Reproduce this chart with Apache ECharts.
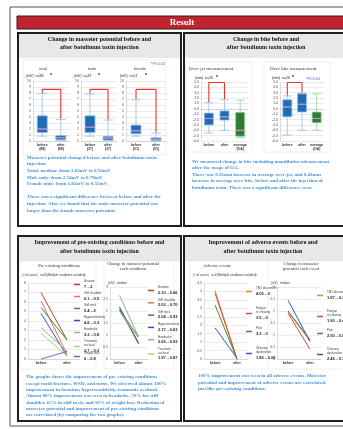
<!DOCTYPE html>
<html>
<head>
<meta charset="utf-8">
<script src="https://cdn.jsdelivr.net/npm/echarts@6/dist/echarts.min.js"></script>
<style>
html, body {margin: 0; padding: 0; background: #fff;}
#main {width: 343px; height: 429px;}
</style>
</head>
<body>
<div id="main"></div>
<script>
// masseter potential (mV): [min, Q1, median, Q3, max]
var boxCats = ['before', 'after'];
var totalBox = [[0.8, 1.4, 2.0, 4.2, 7.9], [0.05, 0.2, 0.55, 0.9, 3.6]];
var maleBox = [[0.8, 1.4, 2.3, 4.2, 7.8], [0.05, 0.15, 0.5, 0.8, 3.5]];
var femaleBox = [[0.8, 1.2, 1.7, 2.65, 6.9], [0, 0.05, 0.3, 0.55, 1.3]];
var groupN = [88, 37, 51];
var groupTitles = ['total', 'male', 'female'];
var sigTop = [8.6, 8.6, 8.6];

// bite (mm)
var biteCats = ['before', 'after', 'average\n(OA)'];
var ojBox = [[-4.5, -3.0, -1.8, -0.8, 1.15], [-4.0, -2.1, -1.5, -0.4, 1.7], [-5.4, -5.1, -4.0, -0.65, 1.6]];
var obBox = [[-4.9, -1.5, 0.35, 1.7, 2.4], [-4.0, -0.6, 0.85, 2.8, 2.95], [-4.0, -2.6, -1.8, -0.6, 2.8]];
var biteSigTop = [4.9, 4.9];

// pre-existing conditions
var lineCats = ['before', 'after'];
var condNames = ['Bruxism', 'Stiff shoulder', 'Stiff neck', 'Hypersensitivity', 'Headache', 'Traumatic occlusal', 'Weight loss'];
var condBefore = [7, 6.1, 5.4, 4.8, 3.3, 2.7, 0];
var condAfter = [2, 0.5, 2, 0.3, 0.8, 0.3, 0.8];
var condColors = ['#a0522d', '#f26b5b', '#3c8c3c', '#3455c4', '#a6a6a6', '#a8d46a', '#8a56c8'];
var condPotNames = ['Bruxism', 'Stiff shoulder', 'Stiff neck', 'Hypersensitivity', 'Headache', 'Traumatic occlusal'];
var condPotBefore = [2.10, 2.03, 2.04, 2.17, 2.65, 1.97];
var condPotAfter = [0.66, 0.70, 0.93, 0.63, 0.93, 0.87];

// adverse events
var advNames = ['TMJ discomfort', 'Fatigue in chewing', 'Pain', 'Chewing dysfunction'];
var advBefore = [4.05, 3.9, 3.2, 1.85];
var advAfter = [0, 0, 0, 0.05];
var advPotBefore = [1.97, 1.9, 2.0, 2.45];
var advPotAfter = [0.75, 0.41, 0.8, 0.73];
var advColors = ['#d0883a', '#e8493a', '#3c8c3c', '#3455c4'];

var chart = echarts.init(document.getElementById('main'));

var SERIF = '"Liberation Serif", "DejaVu Serif", serif';
var SANS = '"Liberation Sans", Arial, sans-serif';
var BLUE_TXT = '#4592d8';

var grids = [
    {left: 33, top: 81, width: 37, height: 60},
    {left: 81, top: 81, width: 36, height: 60},
    {left: 126, top: 81, width: 40, height: 60},
    {left: 201, top: 82, width: 47, height: 59},
    {left: 280, top: 82, width: 44, height: 59},
    {left: 28, top: 283, width: 52, height: 76},
    {left: 110, top: 287, width: 38, height: 72},
    {left: 204, top: 283, width: 44, height: 76},
    {left: 277, top: 287, width: 44, height: 72}
];

var catAxis = function (gi, cats) {
    return {
        type: 'category', gridIndex: gi, data: cats,
        axisTick: {show: false},
        axisLine: {lineStyle: {color: '#bdbdbd', width: 0.5}},
        axisLabel: {fontSize: 3.5, color: '#333', fontWeight: 'bold', fontFamily: SANS, margin: 2, lineHeight: 4, interval: 0}
    };
};
var valAxis = function (gi, min, max, interval, fmt) {
    return {
        type: 'value', gridIndex: gi, min: min, max: max, interval: interval,
        axisLine: {show: true, lineStyle: {color: '#bdbdbd', width: 0.5}},
        axisTick: {show: false},
        axisLabel: {fontSize: 3.5, color: '#555', fontFamily: SANS, margin: 2, formatter: fmt},
        splitLine: {lineStyle: {color: '#d6d6d6', width: 0.5}}
    };
};

var xAxes = [
    catAxis(0, boxCats.map(function (c) { return c + '\n(' + groupN[0] + ')'; })),
    catAxis(1, boxCats.map(function (c) { return c + '\n(' + groupN[1] + ')'; })),
    catAxis(2, boxCats.map(function (c) { return c + '\n(' + groupN[2] + ')'; })),
    catAxis(3, biteCats), catAxis(4, biteCats),
    catAxis(5, lineCats), catAxis(6, lineCats), catAxis(7, lineCats), catAxis(8, lineCats)
];
var oneDec = function (v) { return v.toFixed(1); };
var yAxes = [
    valAxis(0, 0, 10, 1), valAxis(1, 0, 10, 1), valAxis(2, 0, 10, 1),
    valAxis(3, -6, 5, 1, oneDec), valAxis(4, -6, 5, 1, oneDec),
    valAxis(5, 0, 8, 1), valAxis(6, 0, 3, 0.5),
    valAxis(7, 0, 4.5, 0.5), valAxis(8, 0, 3, 0.5)
];

var series = [];
var addBoxes = function (gi, data, bw, sigY) {
    series.push({
        type: 'boxplot', xAxisIndex: gi, yAxisIndex: gi, boxWidth: [bw, bw],
        itemStyle: {color: '#1f6cb0', borderColor: '#93bfe6', borderWidth: 0.8},
        data: data.map(function (d, i) {
            if (i === 2) {
                return {value: d, itemStyle: {color: '#2f7d34', borderColor: '#9ccc9c'}};
            }
            return d;
        })
    });
    series.push({
        type: 'scatter', xAxisIndex: gi, yAxisIndex: gi, symbol: 'rect', symbolSize: [bw, 1],
        itemStyle: {color: '#e68ad2'}, z: 5,
        data: data.map(function (d, i) { return [i, d[2]]; })
    });
    series.push({
        type: 'line', xAxisIndex: gi, yAxisIndex: gi, symbol: 'none', z: 6,
        lineStyle: {color: '#e8352a', width: 1.1},
        data: [[0, data[0][4] + 0.1], [0, sigY], [1, sigY], [1, data[1][4] + 0.1]]
    });
};
addBoxes(0, totalBox, 10, sigTop[0]);
addBoxes(1, maleBox, 10, sigTop[1]);
addBoxes(2, femaleBox, 10, sigTop[2]);
addBoxes(3, ojBox, 9, biteSigTop[0]);
addBoxes(4, obBox, 9, biteSigTop[1]);

var addLines = function (gi, names, before, after, colors) {
    names.forEach(function (n, i) {
        series.push({
            type: 'line', name: n, xAxisIndex: gi, yAxisIndex: gi, symbol: 'none',
            lineStyle: {color: colors[i], width: 1}, itemStyle: {color: colors[i]},
            data: [before[i], after[i]]
        });
    });
};
addLines(5, condNames, condBefore, condAfter, condColors);
addLines(6, condPotNames, condPotBefore, condPotAfter, condColors);
addLines(7, advNames, advBefore, advAfter, advColors);
addLines(8, advNames, advPotBefore, advPotAfter, advColors);

// one small legend per entry, with the before -> after value under the name
var legends = [];
var addLegend = function (names, before, after, dec, left, top0, step) {
    names.forEach(function (n, i) {
        var nameLines = n.length > 14 ? n.replace(' ', '\n') : n;
        var lab = dec ? before[i].toFixed(2) + '→' + after[i].toFixed(2) : before[i] + '→' + after[i];
        legends.push({
            data: [n], left: left, top: top0 + i * step, orient: 'vertical', padding: 0,
            icon: 'rect', itemWidth: 6, itemHeight: 1.5, itemGap: 0, selectedMode: false,
            formatter: function () {
                return nameLines.split('\n').map(function (s) { return '{n|' + s + '}'; }).join('\n') +
                    '\n{v|' + lab + '}';
            },
            textStyle: {
                padding: [0, 0, 0, -1],
                rich: {
                    n: {fontSize: 3, lineHeight: 4, color: '#444', fontFamily: SANS},
                    v: {fontSize: 4, lineHeight: 6, color: '#222', fontWeight: 'bold', fontFamily: SANS}
                }
            }
        });
    });
};
addLegend(condNames, condBefore, condAfter, false, 74, 280, 12);
addLegend(condPotNames, condPotBefore, condPotAfter, true, 148, 286, 12.3);
addLegend(advNames, advBefore, advAfter, false, 246, 287, 20);
addLegend(advNames, advPotBefore, advPotAfter, true, 317, 291, 19);

// page furniture
var g = [];
var rect = function (x, y, w, h, fill, stroke, lw, z) {
    g.push({type: 'rect', z: z || -10, shape: {x: x, y: y, width: w, height: h},
        style: {fill: fill, stroke: stroke, lineWidth: lw || 0}});
};
var text = function (x, y, s, font, fill, align, lh) {
    g.push({type: 'text', z: 20, x: x, y: y,
        style: {text: s, font: font, fill: fill || '#111', align: align || 'left', verticalAlign: 'middle', lineHeight: lh}});
};

rect(10, 7, 345, 419, 'none', '#555', 1, -20);
rect(17, 16, 340, 13, '#c1232f', '#3a1a1a', 1);
text(182, 22.8, 'Result', 'bold 9px ' + SERIF, '#fff', 'center');

var panels = [[18, 33, 163, 193], [184, 33, 172, 193], [18, 236, 163, 185], [184, 236, 172, 185]];
panels.forEach(function (p) {
    rect(p[0], p[1], p[2], p[3], '#fff', '#1e1e1e', 2);
    rect(p[0] + 1, p[1] + 1, p[2] - 2, 24, '#e8e8e8', 'none', 0, -9);
});
var tf = 'bold 6px ' + SERIF;
text(99.5, 43.5, 'Change in masseter potential before and\nafter botulinum toxin injection', tf, '#111', 'center', 8.5);
text(266, 43.5, 'Change in bite before and\nafter botulinum toxin injection', tf, '#111', 'center', 8.5);
text(99.5, 247, 'Improvement of pre-existing conditions before and\nafter botulinum toxin injection', tf, '#111', 'center', 8.5);
text(263, 247, 'Improvement of adverse events before and\nafter botulinum toxin injection', tf, '#111', 'center', 8.5);

// chart frames
rect(23, 60, 143, 95, '#fff', '#dedede', 0.5, -8);
rect(186, 62, 66, 90, '#fff', '#dedede', 0.5, -8);
rect(264, 62, 66, 90, '#fff', '#dedede', 0.5, -8);
rect(20, 261, 76, 108, '#fff', '#dedede', 0.5, -8);
rect(104, 261, 70, 108, '#fff', '#dedede', 0.5, -8);
rect(190, 261, 80, 108, '#fff', '#dedede', 0.5, -8);
rect(268, 261, 76, 108, '#fff', '#dedede', 0.5, -8);

var small = '3.5px ' + SANS;
var xs = '3px ' + SANS;
var centers = [[43, 26, 51], [92, 74, 99], [140, 120, 146]];
groupTitles.forEach(function (t, i) {
    text(centers[i][0], 69, t, '4px ' + SANS, '#444', 'center');
    text(centers[i][1], 76, '(mV)  n=' + groupN[i], small, '#222', 'left');
    text(centers[i][2], 75.5, '*', 'bold 5px ' + SANS, '#111', 'center');
});
text(158, 64, '*P<0.01', '4px ' + SANS, '#3a5fc8', 'center');

text(189, 69, 'Over jet measurement', '5px ' + SERIF, '#333', 'left');
text(270, 69, 'Over bite measurement', '5px ' + SERIF, '#333', 'left');
text(195, 78.5, '(mm)  n=26', small, '#222', 'left');
text(217, 78, '*', 'bold 5px ' + SANS, '#111', 'center');
text(272, 78.5, '(mm)  n=26', small, '#222', 'left');
text(293, 78, '*', 'bold 5px ' + SANS, '#111', 'center');
text(313, 79, '*P<0.01', '4px ' + SANS, '#3a5fc8', 'center');

text(59, 266, 'Pre-existing conditions', '4.5px ' + SERIF, '#333', 'center');
text(22, 275, '(# of cases)   n=26(Multiple conditions included)', xs, '#333', 'left');
text(133, 266.5, 'Change in masseter potential\neach condition', '4.5px ' + SERIF, '#333', 'center', 5.5);
text(108, 283, '(mV)   median', xs, '#333', 'left');
text(217, 266, 'Adverse events', '4.5px ' + SERIF, '#333', 'center');
text(193, 275, '(# of cases)   n=13(Multiple conditions included)', xs, '#333', 'left');
text(301, 266.5, 'Change in masseter\npotential each event', '4.5px ' + SERIF, '#333', 'center', 5.5);
text(271, 283, '(mV)   median', xs, '#333', 'left');

var bf = 'bold 5px ' + SERIF;
text(27, 184, [
    'Masseter potential changed before and after botulinum toxin',
    'injection.',
    'Total, median: from 2.02mV to 0.56mV',
    'Male only: from 2.54mV to 0.79mV',
    'Female only: from 1.82mV to 0.55mV',
    '',
    'There was a significant difference between before and after the',
    'injection. Also, we found that the male masseter potential was',
    'larger than the female masseter potential.'
].join('\n'), bf, BLUE_TXT, 'left', 6.6);
text(192, 174.5, [
    'We measured change in bite including mandibular advancement',
    'after the usage of OA.',
    'There was 0.31mm increase in average over-jet, and 0.43mm',
    'increase in average over bite, before and after the injection of',
    'botulinum toxin. There was a significant difference seen.'
].join('\n'), bf, BLUE_TXT, 'left', 6.6);
text(26, 396, [
    'The graphs shows the improvement of pre-existing conditions',
    'except tooth fracture, WSD, and torus. We observed almost 100%',
    'improvement in bruxism, hypersensitivity, traumatic occlusal.',
    'Almost 80% improvement was seen in headache, 70% for stiff',
    'shoulder, 65% in stiff neck, and 10% of weight loss. Reduction of',
    'masseter potential and improvement of pre-existing conditions',
    'are correlated (by comparing the two graphs).'
].join('\n'), bf, BLUE_TXT, 'left', 6.3);
text(198, 382.5, [
    '100% improvement was seen in all adverse events. Masseter',
    'potential and improvement of adverse events are correlated,',
    'just like pre-existing conditions.'
].join('\n'), bf, BLUE_TXT, 'left', 6.5);

chart.setOption({
    animation: false,
    backgroundColor: '#fff',
    grid: grids,
    xAxis: xAxes,
    yAxis: yAxes,
    legend: legends,
    series: series,
    graphic: {elements: g}
});
</script>
</body>
</html>
